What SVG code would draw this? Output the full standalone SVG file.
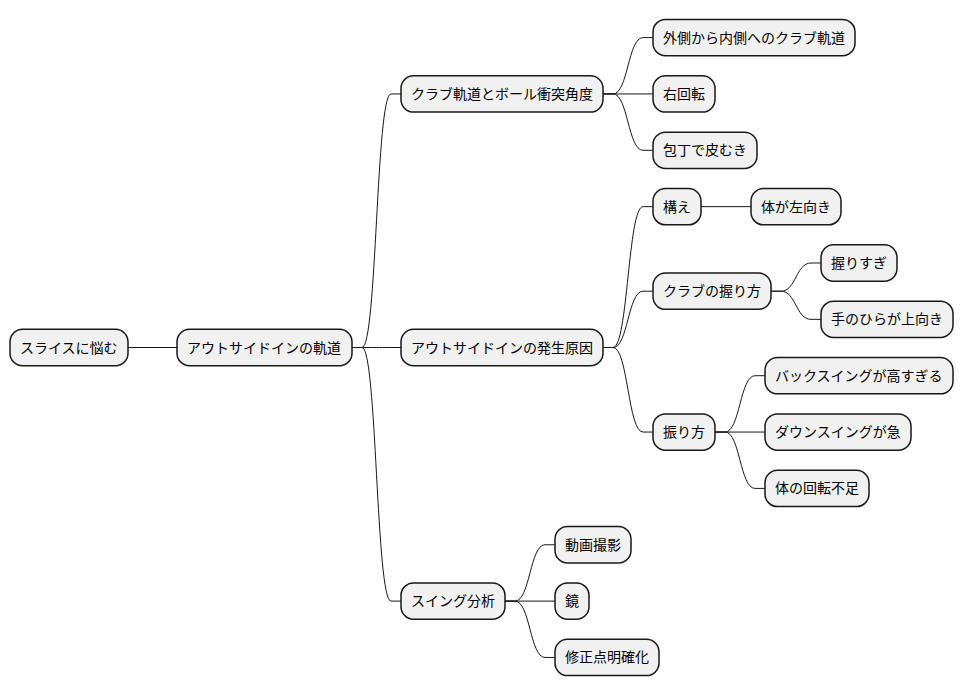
<svg xmlns="http://www.w3.org/2000/svg" width="964" height="696" viewBox="0 0 964 696">
<style>
.n rect{fill:#F1F1F1;stroke:#181818;stroke-width:1.5}
.n text{font-family:"Liberation Sans","Noto Sans CJK JP",sans-serif;font-size:14px;fill:#000}
#connectors path{fill:none;stroke:#181818;stroke-width:1}
</style>
<rect width="964" height="696" fill="#FFFFFF"/>
<g id="connectors">
<path d="M128 347.5 L177 347.5"/>
<path d="M352 347.5 L362 347.5 C377 347.5 376 93.95 391 93.95 L401 93.95"/>
<path d="M352 347.5 L362 347.5 C377 347.5 376 347.5 391 347.5 L401 347.5"/>
<path d="M352 347.5 L362 347.5 C377 347.5 376 601.1 391 601.1 L401 601.1"/>
<path d="M603 93.95 L613 93.95 C628 93.95 628 37.6 643 37.6 L653 37.6"/>
<path d="M603 93.95 L653 93.95"/>
<path d="M603 93.95 L613 93.95 C628 93.95 628 150.3 643 150.3 L653 150.3"/>
<path d="M603 347.5 L613 347.5 C628 347.5 628 206.65 643 206.65 L653 206.65"/>
<path d="M603 347.5 L613 347.5 C628 347.5 628 291.2 643 291.2 L653 291.2"/>
<path d="M603 347.5 L613 347.5 C628 347.5 628 432.05 643 432.05 L653 432.05"/>
<path d="M701 206.65 L751 206.65"/>
<path d="M771 291.2 L781 291.2 C796 291.2 796 263 811 263 L821 263"/>
<path d="M771 291.2 L781 291.2 C796 291.2 796 319.35 811 319.35 L821 319.35"/>
<path d="M715 432.05 L725 432.05 C740 432.05 740 375.7 755 375.7 L765 375.7"/>
<path d="M715 432.05 L765 432.05"/>
<path d="M715 432.05 L725 432.05 C740 432.05 740 488.4 755 488.4 L765 488.4"/>
<path d="M505 601.1 L515 601.1 C530 601.1 530 544.75 545 544.75 L555 544.75"/>
<path d="M505 601.1 L555 601.1"/>
<path d="M505 601.1 L515 601.1 C530 601.1 530 657.45 545 657.45 L555 657.45"/>
</g>
<g id="root" class="n"><rect x="10" y="329.35" width="118" height="36.3" rx="12.5"/><text x="20" y="352.5">スライスに悩む</text></g>
<g id="l1" class="n"><rect x="177" y="329.35" width="175" height="36.3" rx="12.5"/><text x="187" y="352.5">アウトサイドインの軌道</text></g>
<g id="club" class="n"><rect x="401" y="75.8" width="202" height="36.3" rx="12.5"/><text x="411" y="98.95">クラブ軌道とボール衝突角度</text></g>
<g id="cause" class="n"><rect x="401" y="329.35" width="202" height="36.3" rx="12.5"/><text x="411" y="352.5">アウトサイドインの発生原因</text></g>
<g id="analysis" class="n"><rect x="401" y="582.95" width="104" height="36.3" rx="12.5"/><text x="411" y="606.1">スイング分析</text></g>
<g id="outin" class="n"><rect x="653" y="19.45" width="202" height="36.3" rx="12.5"/><text x="663" y="42.6">外側から内側へのクラブ軌道</text></g>
<g id="spin" class="n"><rect x="653" y="75.8" width="62" height="36.3" rx="12.5"/><text x="663" y="98.95">右回転</text></g>
<g id="peel" class="n"><rect x="653" y="132.15" width="104" height="36.3" rx="12.5"/><text x="663" y="155.3">包丁で皮むき</text></g>
<g id="stance" class="n"><rect x="653" y="188.5" width="48" height="36.3" rx="12.5"/><text x="663" y="211.65">構え</text></g>
<g id="bodyleft" class="n"><rect x="751" y="188.5" width="90" height="36.3" rx="12.5"/><text x="761" y="211.65">体が左向き</text></g>
<g id="grip" class="n"><rect x="653" y="273.05" width="118" height="36.3" rx="12.5"/><text x="663" y="296.2">クラブの握り方</text></g>
<g id="tight" class="n"><rect x="821" y="244.85" width="76" height="36.3" rx="12.5"/><text x="831" y="268">握りすぎ</text></g>
<g id="palm" class="n"><rect x="821" y="301.2" width="132" height="36.3" rx="12.5"/><text x="831" y="324.35">手のひらが上向き</text></g>
<g id="swing" class="n"><rect x="653" y="413.9" width="62" height="36.3" rx="12.5"/><text x="663" y="437.05">振り方</text></g>
<g id="back" class="n"><rect x="765" y="357.55" width="188" height="36.3" rx="12.5"/><text x="775" y="380.7">バックスイングが高すぎる</text></g>
<g id="down" class="n"><rect x="765" y="413.9" width="146" height="36.3" rx="12.5"/><text x="775" y="437.05">ダウンスイングが急</text></g>
<g id="rot" class="n"><rect x="765" y="470.25" width="104" height="36.3" rx="12.5"/><text x="775" y="493.4">体の回転不足</text></g>
<g id="video" class="n"><rect x="555" y="526.6" width="76" height="36.3" rx="12.5"/><text x="565" y="549.75">動画撮影</text></g>
<g id="mirror" class="n"><rect x="555" y="582.95" width="34" height="36.3" rx="12.5"/><text x="565" y="606.1">鏡</text></g>
<g id="fix" class="n"><rect x="555" y="639.3" width="104" height="36.3" rx="12.5"/><text x="565" y="662.45">修正点明確化</text></g>
</svg>
